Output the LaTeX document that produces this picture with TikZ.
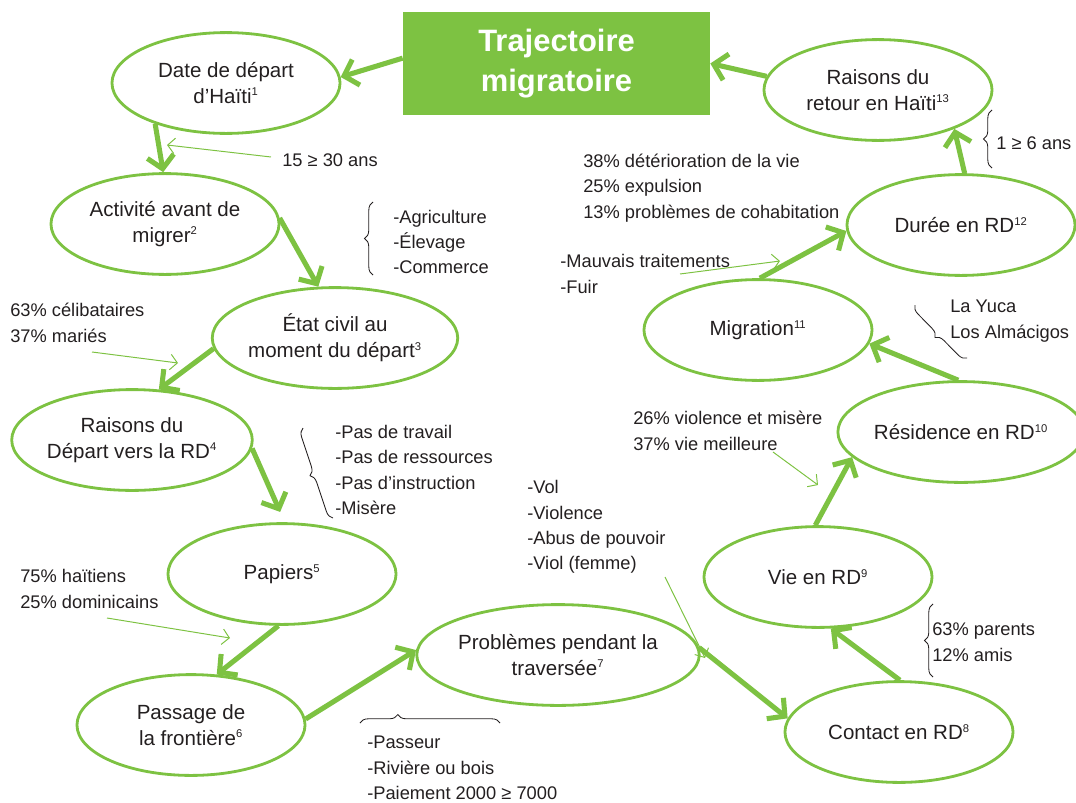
\documentclass[tikz,border=0pt]{standalone}
\usepackage{fontspec}
\setmainfont{Liberation Sans}
\usepackage{tikz}
\usetikzlibrary{shapes.geometric, arrows.meta, decorations.pathreplacing}
\definecolor{vert}{HTML}{7DC242}
\definecolor{encre}{HTML}{231F20}
\newcommand{\numnote}[1]{\textsuperscript{\fontsize{8}{8}\selectfont #1}}

\begin{document}
\begin{tikzpicture}[x=0.025cm, y=-0.025cm,
    etape/.style={ellipse, draw=vert, line width=2pt, minimum width=5.7cm, minimum height=2.52cm,
        inner sep=0pt, align=center, text=encre, font=\fontsize{14.6}{18.3}\selectfont},
    fleche/.style={draw=vert, line width=3.6pt, -{Straight Barb[length=9pt,width=19pt]}},
    renvoi/.style={draw=vert, line width=0.7pt, -{Straight Barb[length=5pt,width=11pt]}},
    note/.style={anchor=west, align=left, inner sep=0pt, text=encre, font=\fontsize{13}{18.1}\selectfont},
    accolade/.style={draw=encre, line width=0.6pt, decorate, decoration={brace, amplitude=6pt}}]
    \useasboundingbox (0,0) rectangle (1076,802);

    % Title
    \node[fill=vert, minimum width=7.675cm, minimum height=2.575cm, align=center, text=white,
        font=\fontsize{22}{28}\selectfont\bfseries] (titre) at (556.5,63.5) {Trajectoire\\migratoire};

    % Steps
    \node[etape] (depart) at (226,83) {Date de départ\\d’Haïti\numnote{1}};
    \node[etape] (activite) at (165,224) {Activité avant de\\migrer\numnote{2}};
    \node[etape] (civil) at (335,338) {État civil au\\moment du départ\numnote{3}};
    \node[etape] (raisons) at (132,440) {Raisons du\\Départ vers la RD\numnote{4}};
    \node[etape] (papiers) at (282,574) {Papiers\numnote{5}};
    \node[etape] (passage) at (191,725) {Passage de\\la frontière\numnote{6}};
    \node[etape] (traversee) at (558,655) {Problèmes pendant la\\traversée\numnote{7}};
    \node[etape] (contact) at (899,732) {Contact en RD\numnote{8}};
    \node[etape] (vie) at (818,577) {Vie en RD\numnote{9}};
    \node[etape] (residence) at (961,432) {Résidence en RD\numnote{10}};
    \node[etape] (migration) at (758,330) {Migration\numnote{11}};
    \node[etape] (duree) at (961,225) {Durée en RD\numnote{12}};
    \node[etape] (retour) at (878,90) {Raisons du\\retour en Haïti\numnote{13}};

    % Path of the migration
    \draw[fleche] (titre.178) -- (depart.3);
    \draw[fleche] (depart.210) -- (activite.92);
    \draw[fleche] (activite.3) -- (civil.108);
    \draw[fleche] (civil.185) -- (raisons.62);
    \draw[fleche, shorten >=8pt] (raisons.356) -- (papiers.87);
    \draw[fleche] (papiers.266) -- (passage.63);
    \draw[fleche] (passage.3) -- (traversee.178);
    \draw[fleche] (traversee.3) -- (contact.173);
    \draw[fleche] (contact.89) -- (vie.284);
    \draw[fleche] (vie.93) -- (residence.193);
    \draw[fleche] (residence.93) -- (migration.353);
    \draw[fleche] (migration.88) -- (duree.183);
    \draw[fleche] (duree.86) -- (retour.333);
    \draw[fleche] (retour.173) -- (titre.east);

    % Notes
    \node[note] (age) at (282,160) {15 ≥ 30 ans};
    \node[note] (metiers) at (393,242) {-Agriculture\\-Élevage\\-Commerce};
    \node[note] (etatcivil) at (10,323) {63\% célibataires\\37\% mariés};
    \node[note] (motifs) at (335,470) {-Pas de travail\\-Pas de ressources\\-Pas d’instruction\\-Misère};
    \node[note] (docs) at (20,589) {75\% haïtiens\\25\% dominicains};
    \node[note] (moyens) at (367,768) {-Passeur\\-Rivière ou bois\\-Paiement 2000 ≥ 7000};
    \node[note] (dangers) at (527,527) {-Vol\\-Violence\\-Abus de pouvoir\\-Viol (femme)};
    \node[note] (choix) at (633,431) {26\% violence et misère\\37\% vie meilleure};
    \node[note] (liens) at (932,642) {63\% parents\\12\% amis};
    \node[note] (lieux) at (950,321) {La Yuca\\Los Almácigos};
    \node[note] (sejour) at (996,143) {1 ≥ 6 ans};
    \node[note] (retours) at (583,188) {38\% détérioration de la vie\\25\% expulsion\\13\% problèmes de cohabitation};
    \node[note] (causes) at (560,274) {-Mauvais traitements\\-Fuir};

    % Thin pointers
    \coordinate (ageA) at (271,157);
    \coordinate (ageB) at (167,145);
    \draw[renvoi] (ageA) -- (ageB);
    \coordinate (civA) at (92,352);
    \coordinate (civB) at (178,363);
    \draw[renvoi] (civA) -- (civB);
    \coordinate (docA) at (107,618);
    \coordinate (docB) at (230,638);
    \draw[renvoi] (docA) -- (docB);
    \coordinate (danA) at (665,577);
    \coordinate (danB) at (705,658);
    \draw[renvoi] (danA) -- (danB);
    \coordinate (choA) at (773,452);
    \coordinate (choB) at (818,485);
    \draw[renvoi] (choA) -- (choB);
    \coordinate (cauA) at (680,274);
    \coordinate (cauB) at (780,261);
    \draw[renvoi] (cauA) -- (cauB);

    % Braces
    \draw[accolade] (373,275) -- (373,202);
    \draw[accolade] (333,518) -- (303,428);
    \draw[accolade] (967,358) -- (915,305);
    \draw[accolade] (992,168) -- (992,110);
    \draw[accolade] (933,677) -- (933,604);
    \draw[accolade, decoration={brace, amplitude=6pt, aspect=0.27}] (360,723) -- (500,723);
\end{tikzpicture}
\end{document}
